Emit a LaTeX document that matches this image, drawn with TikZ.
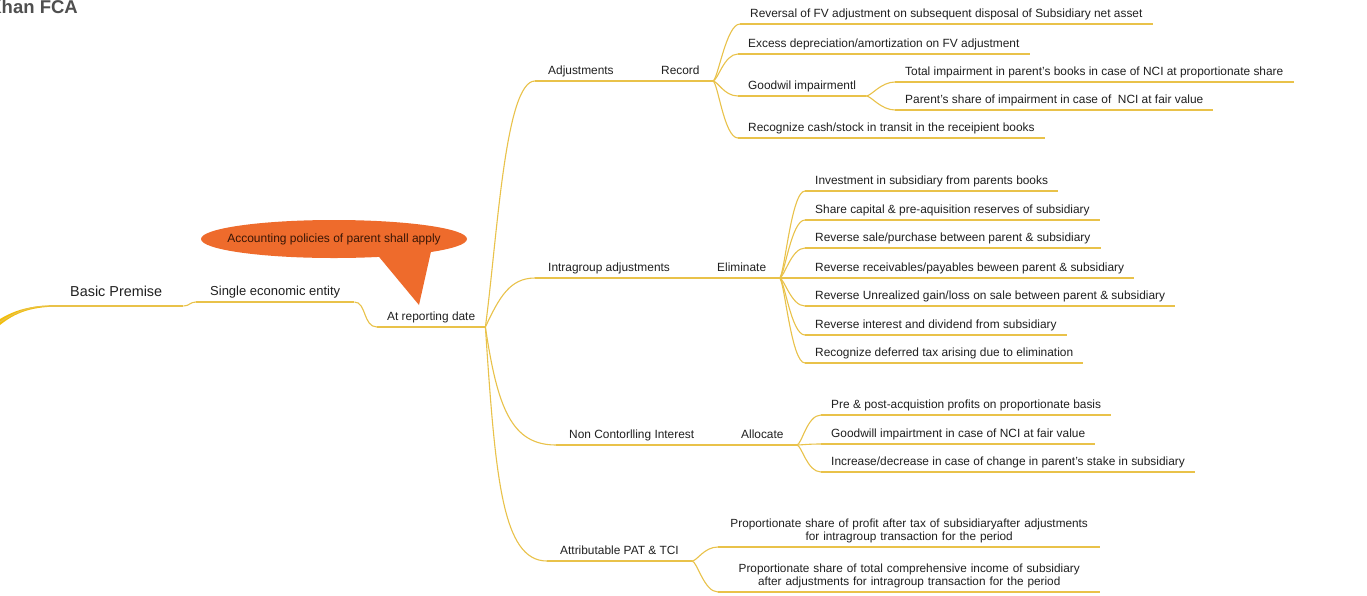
\documentclass[tikz,border=0pt]{standalone}
\usepackage{fontspec}
\setmainfont{Liberation Sans}
\definecolor{linegold}{HTML}{E9C24A}
\definecolor{rootgold}{HTML}{F2BE0A}
\definecolor{ink}{HTML}{202020}
\definecolor{calloutfill}{HTML}{EE6B2C}
\definecolor{callouttext}{HTML}{3A1606}
\definecolor{titlegray}{HTML}{4F4F4F}
\begin{document}
\begin{tikzpicture}[x=1pt,y=-1pt,
  branch/.style={draw=linegold, line width=1.1pt},
  topic/.style={anchor=south west, inner xsep=10pt, inner ysep=3.5pt,
    text height=8.5pt, text depth=2.5pt, text=ink,
    font=\fontsize{11.9}{13}\selectfont},
  bigtopic/.style={topic, inner xsep=21pt, inner ysep=6pt, text height=10pt, text depth=3pt,
    font=\fontsize{14.4}{16}\selectfont},
  midtopic/.style={topic, inner xsep=14pt, font=\fontsize{13}{15}\selectfont},
  twoline/.style={anchor=south west, align=center, text width=370pt, inner xsep=6pt,
    inner ysep=3.5pt, text=ink, font=\fontsize{11.8}{13.2}\selectfont},
  fan/.style={to path={.. controls +(5,0) and +(-14,0) .. (\tikztotarget)}},
]
\clip (0,0) rectangle (1367,595);
\fill[white] (0,0) rectangle (1367,595);

% heading, partly cut by the left edge
\node[anchor=base east, inner sep=0, text=titlegray, font=\fontsize{18.5}{20}\selectfont\bfseries] (title) at (78,13) {Khan FCA};

% speech-bubble note: tail, oval, then its text
\fill[calloutfill] (375,252) -- (419,305) -- (432,247) -- cycle;
\fill[calloutfill] (334,239) ellipse [x radius=133, y radius=19];
\node[inner sep=0, text=callouttext, font=\fontsize{12}{14}\selectfont] (note) at (334,239) {Accounting policies of parent shall apply};

% root stem
\coordinate (stem) at (0,322);
\fill[rootgold] (0,319) .. controls (15,310) and (30,305.6) .. (55,305.4)
  -- (55,306.6) .. controls (30,307.2) and (15,313) .. (0,325) -- cycle;

% main chain
\node[bigtopic] (bp) at (49,306) {Basic Premise};
\node[midtopic] (se) at (196,302) {Single economic entity};
\node[topic] (ard) at (377,327) {At reporting date};

% first level branches
\node[topic, inner xsep=13pt] (adj) at (535,81) {Adjustments};
\node[topic, inner xsep=13pt] (rec) at (648,81) {Record};
\node[topic, inner xsep=13pt] (ig) at (535,278) {Intragroup adjustments};
\node[topic, inner xsep=13pt] (elim) at (704,278) {Eliminate};
\node[topic, inner xsep=13pt] (nci) at (556,445) {Non Contorlling Interest};
\node[topic, inner xsep=13pt] (alloc) at (728,445) {Allocate};
\node[topic, inner xsep=13pt] (pat) at (547,561) {Attributable PAT \& TCI};

% record
\node[topic] (r1) at (740,24) {Reversal of FV adjustment on subsequent disposal of Subsidiary net asset};
\node[topic] (r2) at (738,54) {Excess depreciation/amortization on FV adjustment};
\node[topic] (r3) at (738,96) {Goodwil impairmentl};
\node[topic] (r4) at (738,138) {Recognize cash/stock in transit in the receipient books};
\node[topic] (g1) at (895,82) {Total impairment in parent's books in case of NCI at proportionate share};
\node[topic] (g2) at (895,110) {Parent's share of impairment in case of~ NCI at fair value};

% eliminate
\node[topic] (e1) at (805,191) {Investment in subsidiary from parents books};
\node[topic] (e2) at (805,220) {Share capital \& pre-aquisition reserves of subsidiary};
\node[topic] (e3) at (805,248) {Reverse sale/purchase between parent \& subsidiary};
\node[topic] (e4) at (805,278) {Reverse receivables/payables beween parent \& subsidiary};
\node[topic] (e5) at (805,306) {Reverse Unrealized gain/loss on sale between parent \& subsidiary};
\node[topic] (e6) at (805,335) {Reverse interest and dividend from subsidiary};
\node[topic] (e7) at (805,363) {Recognize deferred tax arising due to elimination};

% allocate
\node[topic] (a1) at (821,415) {Pre \& post-acquistion profits on proportionate basis};
\node[topic] (a2) at (821,444) {Goodwill impairtment in case of NCI at fair value};
\node[topic] (a3) at (821,472) {Increase/decrease in case of change in parent's stake in subsidiary};

% attributable
\node[twoline] (t1) at (718,547) {Proportionate share of profit after tax of subsidiaryafter adjustments\\for intragroup transaction for the period};
\node[twoline] (t2) at (718,592) {Proportionate share of total comprehensive income of subsidiary\\after adjustments for intragroup transaction for the period};

% underlines
\foreach \n in {bp,se,ard,adj,rec,ig,elim,nci,alloc,pat,r1,r2,r3,r4,g1,g2,e1,e2,e3,e4,e5,e6,e7,a1,a2,a3,t1,t2}
  \draw[branch] (\n.south west) -- (\n.south east);

% chain joints
\draw[branch] (stem) .. controls (20,309) and (35,306) .. (bp.south west);
\draw[branch] (bp.south east) .. controls +(6,0) and +(-6,0) .. (se.south west);
\draw[branch] (se.south east) .. controls +(12,0) and +(-14,0) .. (ard.south west);
\draw[branch] (adj.south east) -- (rec.south west);
\draw[branch] (ig.south east) -- (elim.south west);
\draw[branch] (nci.south east) -- (alloc.south west);

% main branches
\draw[branch] (ard.south east) .. controls +(12,-90) and +(-30,0) .. (adj.south west);
\draw[branch] (ard.south east) .. controls +(14,-30) and +(-25,0) .. (ig.south west);
\draw[branch] (ard.south east) .. controls +(12,80) and +(-45,0) .. (nci.south west);
\draw[branch] (ard.south east) .. controls +(10,150) and +(-45,0) .. (pat.south west);

% fans
\foreach \c in {r1,r2,r3,r4} \draw[branch] (rec.south east) to[fan] (\c.south west);
\foreach \c in {g1,g2} \draw[branch] (r3.south east) to[fan] (\c.south west);
\foreach \c in {e1,e2,e3,e4,e5,e6,e7} \draw[branch] (elim.south east) to[fan] (\c.south west);
\foreach \c in {a1,a2,a3} \draw[branch] (alloc.south east) to[fan] (\c.south west);
\foreach \c in {t1,t2} \draw[branch] (pat.south east) to[fan] (\c.south west);
\end{tikzpicture}
\end{document}
